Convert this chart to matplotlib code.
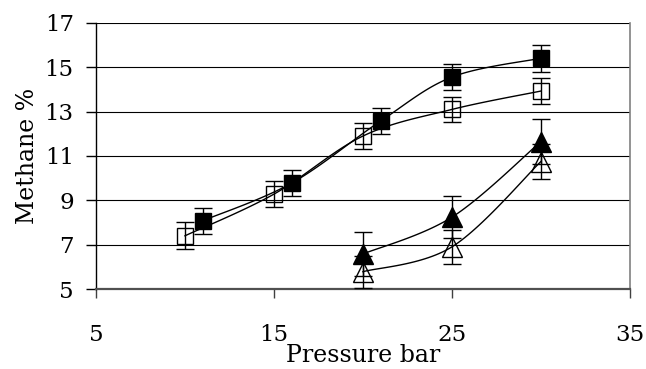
import numpy as np
import matplotlib
matplotlib.use("Agg")
import matplotlib.pyplot as plt

plt.rcParams['font.family'] = ['DejaVu Serif']

# Data
sq_open_x = [10, 15, 20, 25, 30]
sq_open_y = [7.4, 9.28, 11.9, 13.1, 13.93]
sq_open_err = [0.6, 0.58, 0.6, 0.58, 0.58]

sq_fill_x = [11, 16, 21, 25, 30]
sq_fill_y = [8.08, 9.78, 12.58, 14.56, 15.41]
sq_fill_err = [0.58, 0.59, 0.6, 0.58, 0.6]

tri_fill_x = [20, 25, 30]
tri_fill_y = [6.58, 8.24, 11.65]
tri_fill_err = [0.99, 0.95, 1.03]

tri_open_x = [20, 25, 30]
tri_open_y = [5.78, 6.9, 10.75]
tri_open_err = [0.72, 0.75, 0.77]

x_ticks = [5, 15, 25, 35]
y_ticks = [5, 7, 9, 11, 13, 15, 17]


def smooth(x, y, n=30):
    x = np.asarray(x, float)
    y = np.asarray(y, float)
    px = np.concatenate([[x[0]], x, [x[-1]]])
    py = np.concatenate([[y[0]], y, [y[-1]]])
    xs, ys = [], []
    t = np.linspace(0, 1, n)
    for i in range(1, len(px) - 2):
        p0 = np.array([px[i - 1], py[i - 1]])
        p1 = np.array([px[i], py[i]])
        p2 = np.array([px[i + 1], py[i + 1]])
        p3 = np.array([px[i + 2], py[i + 2]])
        c1 = p1 + (p2 - p0) / 6.0
        c2 = p2 - (p3 - p1) / 6.0
        pts = ((1 - t) ** 3)[:, None] * p1 + (3 * (1 - t) ** 2 * t)[:, None] * c1 \
            + (3 * (1 - t) * t ** 2)[:, None] * c2 + (t ** 3)[:, None] * p2
        xs.extend(pts[:, 0])
        ys.extend(pts[:, 1])
    return xs, ys


fig = plt.figure(figsize=(6.46, 3.69), dpi=100)
ax = fig.add_axes([0.1486, 0.2168, 0.975 - 0.1486, 0.9377 - 0.2168])

for yv in y_ticks[1:]:
    ax.axhline(yv, color='black', lw=0.8, zorder=1)

ms_sq = 12.2
ms_tri = 13.8
series = [
    (sq_open_x, sq_open_y, sq_open_err, 's', 'none'),
    (sq_fill_x, sq_fill_y, sq_fill_err, 's', 'black'),
    (tri_fill_x, tri_fill_y, tri_fill_err, '^', 'black'),
    (tri_open_x, tri_open_y, tri_open_err, '^', 'none'),
]
for x, y, e, m, fc in series:
    sx, sy = smooth(x, y)
    ax.plot(sx, sy, color='black', lw=1.0, zorder=2)
    ax.plot(x, y, linestyle='none', marker=m,
            markersize=ms_sq if m == 's' else ms_tri,
            markerfacecolor=fc, markeredgecolor='black', markeredgewidth=1.0,
            zorder=3)
    ax.errorbar(x, y, yerr=e, fmt='none', ecolor='black', elinewidth=1.0,
                capsize=6.5, capthick=1.0, zorder=4)

ax.set_xlim(5, 35)
ax.set_ylim(5, 17)
ax.set_xticks(x_ticks)
ax.set_yticks(y_ticks)
ax.tick_params(axis='x', direction='out', length=6.5, width=1.0, pad=19,
               labelsize=16.5, color='#404040')
ax.tick_params(axis='y', direction='out', length=7, width=1.0, pad=9,
               labelsize=16.5)
ax.spines['top'].set_visible(False)
ax.spines['right'].set_color('#808080')
ax.spines['right'].set_linewidth(1.2)
ax.spines['bottom'].set_color('#505050')
ax.spines['bottom'].set_linewidth(1.6)
ax.spines['left'].set_color('black')
ax.spines['left'].set_linewidth(1.0)

ax.set_xlabel('Pressure bar', fontsize=17, labelpad=-1.5)
ax.set_ylabel('Methane %', fontsize=17, labelpad=4.3)

fig.savefig('out.png', dpi=100)
